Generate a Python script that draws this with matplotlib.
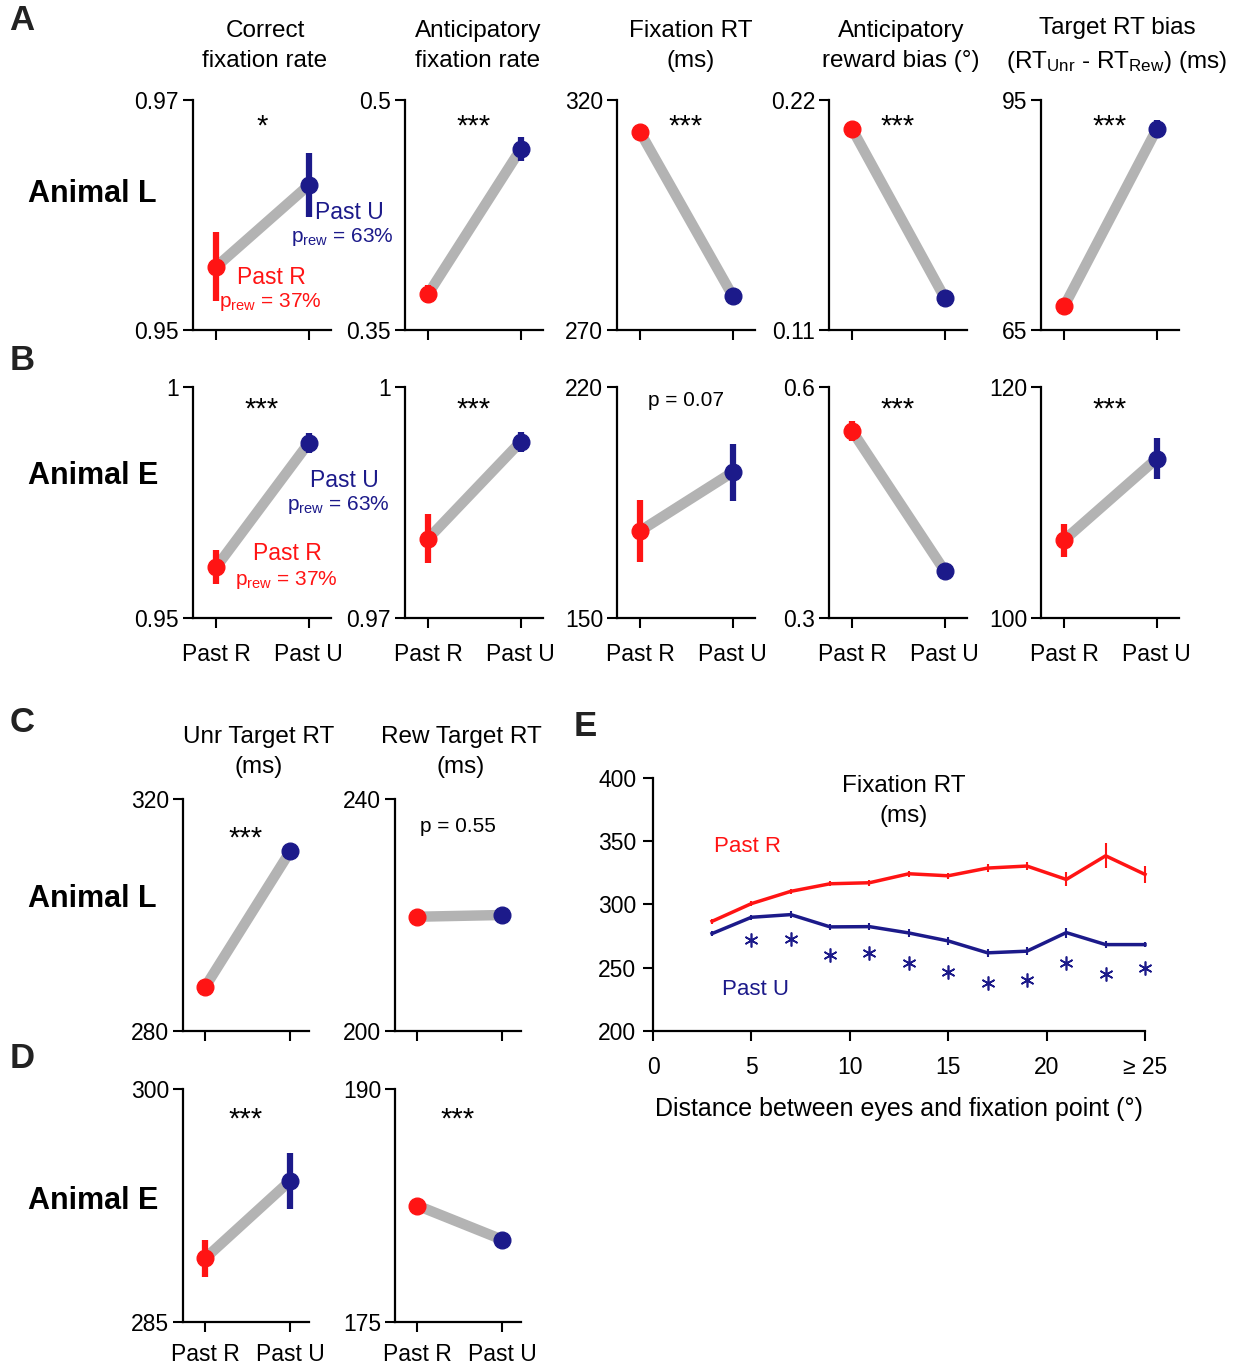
import numpy as np
import matplotlib
matplotlib.use('Agg')
import matplotlib.pyplot as plt

plt.rcParams['font.family'] = ['Liberation Sans', 'DejaVu Sans']
plt.rcParams['mathtext.default'] = 'regular'

RED = '#ff1414'
BLUE = '#1c1a8a'
GRAY = '#b3b3b3'

W, H = 1236, 1366

# ---- data ----
conditions = ['Past R', 'Past U']

# row A/B headers
row_titles = ['Correct\nfixation rate', 'Anticipatory\nfixation rate', 'Fixation RT\n(ms)',
              'Anticipatory\nreward bias (°)', 'Target RT bias\n(RT$_{Unr}$ - RT$_{Rew}$) (ms)']
title_x = [265, 478, 691, 901, 1117]

# Animal L (row A)
L_ylim = [(0.95, 0.97), (0.35, 0.5), (270, 320), (0.11, 0.22), (65, 95)]
L_ytick_labels = [('0.95', '0.97'), ('0.35', '0.5'), ('270', '320'), ('0.11', '0.22'), ('65', '95')]
L_past_r = [0.9555, 0.3735, 313.0, 0.2061, 68.1]
L_past_u = [0.9626, 0.468, 277.4, 0.1253, 91.2]
L_err_r = [0.003, 0.006, 0.0, 0.0, 0.8]
L_err_u = [0.0028, 0.008, 0.0, 0.0, 1.2]
L_sig = ['*', '***', '***', '***', '***']

# Animal E (row B)
E_ylim = [(0.95, 1.0), (0.97, 1.0), (150, 220), (0.3, 0.6), (100, 120)]
E_ytick_labels = [('0.95', '1'), ('0.97', '1'), ('150', '220'), ('0.3', '0.6'), ('100', '120')]
E_past_r = [0.961, 0.9803, 176.4, 0.5429, 106.75]
E_past_u = [0.9879, 0.9929, 194.2, 0.361, 113.8]
E_err_r = [0.0037, 0.0032, 9.5, 0.013, 1.43]
E_err_u = [0.0022, 0.0013, 8.6, 0.0, 1.8]
E_sig = ['***', '***', 'p = 0.07', '***', '***']

# panels C / D
cd_titles = ['Unr Target RT\n(ms)', 'Rew Target RT\n(ms)']
cd_title_x = [259, 461]
C_ylim = [(280, 320), (200, 240)]
C_past_r = [287.6, 219.7]
C_past_u = [311.0, 220.0]
C_err_r = [0.0, 0.0]
C_err_u = [0.0, 0.0]
C_sig = ['***', 'p = 0.55']
D_ylim = [(285, 300), (175, 190)]
D_past_r = [289.1, 182.5]
D_past_u = [294.1, 180.3]
D_err_r = [1.2, 0.0]
D_err_u = [1.8, 0.0]
D_sig = ['***', '***']

# panel E
dist = [3, 5, 7, 9, 11, 13, 15, 17, 19, 21, 23, 25]
rt_past_r = [286.7, 300.7, 310.4, 316.4, 317.2, 324.3, 322.7, 328.8, 330.4, 319.8, 338.5, 323.8]
rt_past_r_err = [2, 2, 2, 2, 2.5, 2.5, 2.5, 3, 3, 5.5, 10, 6.5]
rt_past_u = [277.0, 289.9, 292.0, 282.3, 282.5, 277.5, 271.2, 261.8, 263.1, 277.8, 268.3, 268.3]
rt_past_u_err = [2, 2, 2.5, 2.5, 2.5, 3, 3, 3, 3, 4, 3, 2]
star_x = [5, 7, 9, 11, 13, 15, 17, 19, 21, 23, 25]
star_y = [272.3, 272.8, 260.4, 261.8, 253.4, 246.8, 237.6, 240.2, 254.1, 244.9, 249.9]


def px_axes(fig, left, top, right, bottom):
    return fig.add_axes([left / W, 1 - bottom / H, (right - left) / W, (bottom - top) / H])


def style(ax):
    for s in ['top', 'right']:
        ax.spines[s].set_visible(False)
    for s in ['left', 'bottom']:
        ax.spines[s].set_linewidth(1.6)
    ax.tick_params(direction='out', length=7, width=1.5, labelsize=16.5)


def pair_panel(ax, ylim, r, u, er, eu, sig, sig_y, xlim, show_x, xpad=11):
    style(ax)
    ax.plot([0, 1], [r, u], color=GRAY, lw=7.5, solid_capstyle='butt', zorder=1)
    ax.errorbar([0], [r], yerr=[er], fmt='o', color=RED, ms=12, elinewidth=4.5, capsize=0, zorder=3)
    ax.errorbar([1], [u], yerr=[eu], fmt='o', color=BLUE, ms=12, elinewidth=4.5, capsize=0, zorder=3)
    ax.set_xlim(*xlim)
    ax.set_ylim(*ylim)
    ax.set_yticks(list(ylim))
    ax.set_xticks([0, 1])
    if show_x:
        ax.set_xticklabels(conditions)
    else:
        ax.set_xticklabels([])
    ax.tick_params(axis='x', pad=xpad)
    ax.tick_params(axis='y', pad=3)
    if sig.startswith('p'):
        ax.text(0.5, sig_y, sig, transform=ax.transAxes, ha='center', va='center', fontsize=15)
    else:
        ax.text(0.5, sig_y, sig, transform=ax.transAxes, ha='center', va='baseline', fontsize=21)


fig = plt.figure(figsize=(W / 100, H / 100), dpi=100)

lefts = [193, 405, 617, 829, 1041]
for i in range(5):
    ax = px_axes(fig, lefts[i], 100, lefts[i] + 138, 330)
    pair_panel(ax, L_ylim[i], L_past_r[i], L_past_u[i], L_err_r[i], L_err_u[i], L_sig[i], 0.848,
               (-0.25, 1.24), False)
    ax.set_yticklabels(L_ytick_labels[i])
    fig.text(title_x[i] / W, 1 - 46 / H, row_titles[i], ha='center', va='center', fontsize=17.5, linespacing=1.5)
    if i == 0:
        ax.text(1.065, 0.9602, 'Past U', color=BLUE, fontsize=16.5, ha='left', va='center')
        ax.text(1.92, 0.9581, 'p$_{rew}$ = 63%', color=BLUE, fontsize=15, ha='right', va='center')
        ax.text(0.60, 0.9546, 'Past R', color=RED, fontsize=16.5, ha='center', va='center')
        ax.text(0.59, 0.95243, 'p$_{rew}$ = 37%', color=RED, fontsize=15, ha='center', va='center')

    ax = px_axes(fig, lefts[i], 387, lefts[i] + 138, 618)
    sig_y = 0.94 if E_sig[i].startswith('p') else 0.866
    pair_panel(ax, E_ylim[i], E_past_r[i], E_past_u[i], E_err_r[i], E_err_u[i], E_sig[i], sig_y,
               (-0.25, 1.24), True)
    ax.set_yticklabels(E_ytick_labels[i])
    if i == 0:
        ax.text(1.01, 0.9797, 'Past U', color=BLUE, fontsize=16.5, ha='left', va='center')
        ax.text(1.87, 0.9745, 'p$_{rew}$ = 63%', color=BLUE, fontsize=15, ha='right', va='center')
        ax.text(0.774, 0.9639, 'Past R', color=RED, fontsize=16.5, ha='center', va='center')
        ax.text(0.76, 0.9582, 'p$_{rew}$ = 37%', color=RED, fontsize=15, ha='center', va='center')

cd_lefts = [183, 395]
for i in range(2):
    ax = px_axes(fig, cd_lefts[i], 799, cd_lefts[i] + 126, 1031)
    sig_y = 0.88 if C_sig[i].startswith('p') else 0.797
    pair_panel(ax, C_ylim[i], C_past_r[i], C_past_u[i], C_err_r[i], C_err_u[i], C_sig[i], sig_y,
               (-0.26, 1.22), False)
    fig.text(cd_title_x[i] / W, 1 - 752 / H, cd_titles[i], ha='center', va='center', fontsize=17.5, linespacing=1.5)
    ax = px_axes(fig, cd_lefts[i], 1089, cd_lefts[i] + 126, 1322)
    pair_panel(ax, D_ylim[i], D_past_r[i], D_past_u[i], D_err_r[i], D_err_u[i], D_sig[i], 0.833,
               (-0.26, 1.22), True, xpad=8)

# panel E
ax = px_axes(fig, 653, 778, 1145, 1031)
style(ax)
ax.errorbar(dist, rt_past_r, yerr=rt_past_r_err, color=RED, lw=2.5, elinewidth=1.5, capsize=0)
ax.errorbar(dist, rt_past_u, yerr=rt_past_u_err, color=BLUE, lw=2.5, elinewidth=1.5, capsize=0)
ax.plot(star_x, star_y, ls='none', marker=(6, 2, 0), ms=10, mew=1.2, color=BLUE)
for art in ax.lines + ax.collections:
    art.set_clip_on(False)
ax.set_xlim(0, 25)
ax.set_ylim(200, 400)
ax.set_xticks([0, 5, 10, 15, 20, 25])
ax.set_xticklabels(['0', '5', '10', '15', '20', '≥ 25'])
ax.set_yticks([200, 250, 300, 350, 400])
ax.tick_params(axis='x', pad=11)
ax.tick_params(axis='y', pad=5)
ax.set_xlabel('Distance between eyes and fixation point (°)', fontsize=18, labelpad=13)
ax.text(12.75, 382, 'Fixation RT\n(ms)', ha='center', va='center', fontsize=17.5, linespacing=1.5)
ax.text(3.1, 346, 'Past R', color=RED, fontsize=16, ha='left', va='center')
ax.text(3.5, 233, 'Past U', color=BLUE, fontsize=16, ha='left', va='center')

# panel letters and animal labels
for lab, x, y in [('A', 22, 20), ('B', 22, 360), ('C', 22, 722), ('D', 22, 1058), ('E', 585, 726)]:
    fig.text(x / W, 1 - y / H, lab, fontsize=25, fontweight='bold', ha='center', va='center', color='#222222')
for lab, y in [('Animal L', 194), ('Animal E', 476), ('Animal L', 899), ('Animal E', 1201)]:
    fig.text(28 / W, 1 - y / H, lab, fontsize=22, fontweight='bold', ha='left', va='center')

fig.savefig('out.png', dpi=100)
